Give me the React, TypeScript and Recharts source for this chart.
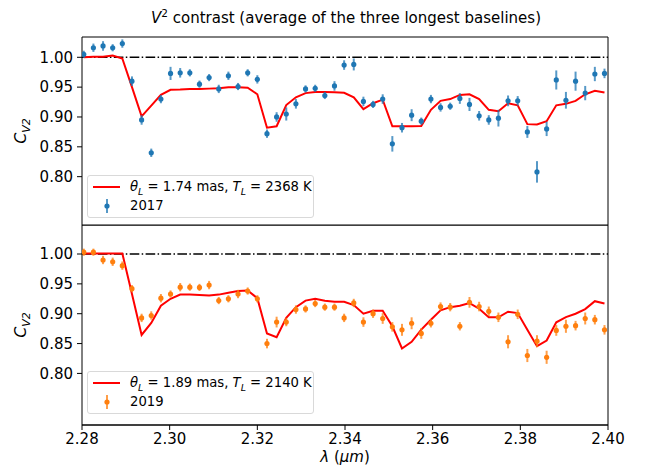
import { ComposedChart, Line, Scatter, ErrorBar, XAxis, YAxis, ReferenceLine } from 'recharts';

// wavelength grid (micron)
const wavelengths = [
  2.2804, 2.2826, 2.2848, 2.287, 2.2892, 2.2914, 2.2936, 2.2958, 2.298, 2.3002,
  2.3024, 2.3046, 2.3068, 2.309, 2.3112, 2.3134, 2.3156, 2.3178, 2.32, 2.3222,
  2.3244, 2.3266, 2.3288, 2.331, 2.3332, 2.3354, 2.3376, 2.3398, 2.342, 2.3442,
  2.3464, 2.3486, 2.3508, 2.353, 2.3552, 2.3574, 2.3596, 2.3618, 2.364, 2.3662,
  2.3684, 2.3706, 2.3728, 2.375, 2.3772, 2.3794, 2.3816, 2.3838, 2.386, 2.3882,
  2.3904, 2.3926, 2.3948, 2.397, 2.3992,
];

const v2017 = [
  1.005, 1.016, 1.019, 1.016, 1.023, 0.96, 0.895, 0.84, 0.93, 0.973,
  0.974, 0.974, 0.955, 0.966, 0.947, 0.969, 0.951, 0.974, 0.963, 0.872,
  0.9, 0.905, 0.922, 0.947, 0.948, 0.936, 0.952, 0.987, 0.988, 0.926,
  0.921, 0.93, 0.855, 0.882, 0.903, 0.893, 0.93, 0.916, 0.918, 0.931,
  0.921, 0.902, 0.895, 0.898, 0.927, 0.927, 0.875, 0.808, 0.88, 0.962,
  0.928, 0.96, 0.94, 0.972, 0.973,
];
const err2017 = [
  0.006, 0.007, 0.008, 0.006, 0.007, 0.008, 0.008, 0.007, 0.007, 0.011,
  0.008, 0.006, 0.006, 0.006, 0.007, 0.007, 0.006, 0.006, 0.007, 0.007,
  0.008, 0.011, 0.008, 0.006, 0.006, 0.006, 0.008, 0.008, 0.01, 0.008,
  0.006, 0.008, 0.013, 0.008, 0.01, 0.006, 0.007, 0.007, 0.006, 0.009,
  0.011, 0.008, 0.008, 0.014, 0.009, 0.008, 0.01, 0.018, 0.012, 0.016,
  0.014, 0.016, 0.012, 0.012, 0.008,
];
const model2017 = [
  1.0, 1.001, 1.001, 1.003, 0.998, 0.95, 0.901, 0.919, 0.937, 0.9455,
  0.946, 0.947, 0.947, 0.9475, 0.948, 0.95, 0.95, 0.949, 0.938, 0.882,
  0.8845, 0.92, 0.933, 0.94, 0.942, 0.942, 0.9415, 0.9405, 0.933, 0.913,
  0.923, 0.929, 0.8845, 0.8845, 0.8845, 0.885, 0.912, 0.927, 0.93, 0.937,
  0.938, 0.93, 0.912, 0.9095, 0.923, 0.9195, 0.888, 0.8875, 0.893, 0.9195,
  0.922, 0.927, 0.938, 0.944, 0.941,
];

const v2019 = [
  1.003, 1.003, 0.99, 0.987, 0.9805, 0.942, 0.893, 0.897, 0.926, 0.933,
  0.9445, 0.9445, 0.944, 0.948, 0.922, 0.925, 0.933, 0.938, 0.925, 0.85,
  0.886, 0.886, 0.907, 0.908, 0.917, 0.911, 0.911, 0.893, 0.918, 0.886,
  0.9, 0.892, 0.878, 0.873, 0.884, 0.867, 0.884, 0.912, 0.911, 0.879,
  0.919, 0.912, 0.904, 0.894, 0.853, 0.899, 0.83, 0.854, 0.827, 0.872,
  0.879, 0.88, 0.892, 0.89, 0.873,
];
const err2019 = [
  0.006, 0.006, 0.007, 0.007, 0.007, 0.006, 0.007, 0.007, 0.007, 0.006,
  0.007, 0.006, 0.006, 0.007, 0.006, 0.006, 0.007, 0.006, 0.006, 0.008,
  0.009, 0.007, 0.007, 0.006, 0.006, 0.006, 0.006, 0.007, 0.007, 0.008,
  0.007, 0.009, 0.008, 0.01, 0.01, 0.009, 0.007, 0.007, 0.007, 0.007,
  0.009, 0.008, 0.008, 0.008, 0.011, 0.008, 0.011, 0.01, 0.011, 0.009,
  0.011, 0.008, 0.01, 0.008, 0.008,
];
const model2019 = [
  1.001, 1.001, 1.001, 1.001, 1.001, 0.933, 0.8645, 0.8845, 0.9133, 0.925,
  0.932, 0.932, 0.9315, 0.9305, 0.932, 0.935, 0.938, 0.939, 0.926, 0.867,
  0.8606, 0.893, 0.911, 0.922, 0.925, 0.9217, 0.92, 0.92, 0.9144, 0.9,
  0.905, 0.905, 0.879, 0.8417, 0.853, 0.8733, 0.89, 0.9056, 0.911, 0.9133,
  0.9178, 0.9083, 0.894, 0.894, 0.9033, 0.901, 0.873, 0.8456, 0.855, 0.8856,
  0.8944, 0.9, 0.9078, 0.921, 0.9172,
];

const yTicks = [0.8, 0.85, 0.9, 0.95, 1.0];
const xTicks = [2.28, 2.3, 2.32, 2.34, 2.36, 2.38, 2.4];

const FONT = '"DejaVu Sans", sans-serif';
const tickStyle = { fontSize: 15, fill: '#000', fontFamily: FONT };

const rows2017 = wavelengths.map((x, i) => ({ x, y: v2017[i], err: err2017[i], model: model2017[i] }));
const rows2019 = wavelengths.map((x, i) => ({ x, y: v2019[i], err: err2019[i], model: model2019[i] }));

interface PanelProps {
  rows: { x: number; y: number; err: number; model: number }[];
  color: string;
  domain: [number, number];
  height: number;
  margin: { top: number; right: number; left: number; bottom: number };
  showX: boolean;
}

function Panel({ rows, color, domain, height, margin, showX }: PanelProps) {
  return (
    <ComposedChart width={648} height={height} data={rows} margin={margin}>
      <XAxis
        dataKey="x"
        type="number"
        domain={[2.28, 2.4]}
        ticks={xTicks}
        tickFormatter={(v) => v.toFixed(2)}
        hide={!showX}
        allowDataOverflow
        height={45}
        stroke="#000"
        tickSize={5}
        tickMargin={3}
        tick={tickStyle}
      />
      <YAxis
        type="number"
        domain={domain}
        ticks={yTicks}
        allowDataOverflow
        tickFormatter={(v) => v.toFixed(2)}
        width={82}
        stroke="#000"
        tickSize={5}
        tickMargin={4}
        tick={tickStyle}
      />
      <ReferenceLine y={domain[1]} stroke="#000" strokeWidth={1} />
      <ReferenceLine y={domain[0]} stroke="#000" strokeWidth={1} />
      <ReferenceLine x={2.4} stroke="#000" strokeWidth={1} />
      <ReferenceLine y={1} stroke="#000" strokeWidth={1.5} strokeDasharray="9.6 2.4 1.5 2.4" />
      <Line
        type="linear"
        dataKey="model"
        stroke="#ff0000"
        strokeWidth={2}
        dot={false}
        isAnimationActive={false}
      />
      <Scatter
        data={rows}
        dataKey="y"
        fill={color}
        isAnimationActive={false}
        shape={(p: any) => <circle cx={p.cx} cy={p.cy} r={2.6} fill={color} />}
      >
        <ErrorBar dataKey="err" direction="y" width={0} stroke={color} strokeWidth={2} strokeOpacity={0.75} isAnimationActive={false} />
      </Scatter>
    </ComposedChart>
  );
}

function LegendBox({ top, theta, temp, year, color }: { top: number; theta: string; temp: string; year: string; color: string }) {
  return (
    <div
      style={{
        position: 'absolute',
        left: 87,
        top,
        width: 227,
        height: 43,
        boxSizing: 'border-box',
        border: '1px solid #d9d9d9',
        borderRadius: 3,
        background: 'rgba(255,255,255,0.8)',
        fontFamily: FONT,
        fontSize: 13.2,
        color: '#000',
      }}
    >
      <div style={{ position: 'absolute', left: 5, top: 10, width: 27, height: 2, background: '#ff0000' }} />
      <div style={{ position: 'absolute', left: 42, top: 1, whiteSpace: 'nowrap', lineHeight: '19px' }}>
        <i>θ</i><sub style={{ fontSize: 9.5 }}><i>L</i></sub> = {theta} mas, <i>T</i><sub style={{ fontSize: 9.5 }}><i>L</i></sub> = {temp} K
      </div>
      <svg style={{ position: 'absolute', left: 14, top: 22 }} width={10} height={16}>
        <line x1={5} y1={1} x2={5} y2={15} stroke={color} strokeWidth={2} strokeOpacity={0.75} />
        <circle cx={5} cy={8} r={2.6} fill={color} />
      </svg>
      <div style={{ position: 'absolute', left: 42, top: 21, lineHeight: '18px' }}>{year}</div>
    </div>
  );
}

function YLabel({ centerY }: { centerY: number }) {
  return (
    <div
      style={{
        position: 'absolute',
        left: 22,
        top: centerY,
        transform: 'translate(-50%, -50%) rotate(-90deg)',
        fontFamily: FONT,
        fontSize: 16,
        whiteSpace: 'nowrap',
      }}
    >
      <i>C</i><sub style={{ fontSize: 11 }}><i>V2</i></sub>
    </div>
  );
}

export default function App() {
  return (
    <div style={{ position: 'absolute', left: 0, top: 0, width: 648, height: 470, background: '#fff' }}>
      <div
        style={{
          position: 'absolute',
          left: 346,
          top: 17,
          transform: 'translate(-50%, -50%)',
          fontFamily: FONT,
          fontSize: 15,
          whiteSpace: 'nowrap',
        }}
      >
        <i>V</i><sup style={{ fontSize: 10.5 }}>2</sup> contrast (average of the three longest baselines)
      </div>
      <div style={{ position: 'absolute', left: 0, top: 0 }}>
        <Panel
          rows={rows2017}
          color="#1f77b4"
          domain={[0.719, 1.034]}
          height={230}
          margin={{ top: 37, right: 40, left: 0, bottom: 5 }}
          showX={false}
        />
      </div>
      <div style={{ position: 'absolute', left: 0, top: 225 }}>
        <Panel
          rows={rows2019}
          color="#ff7f0e"
          domain={[0.7136, 1.0486]}
          height={245}
          margin={{ top: 0, right: 40, left: 0, bottom: 0 }}
          showX={true}
        />
      </div>
      <LegendBox top={175} theta="1.74" temp="2368" year="2017" color="#1f77b4" />
      <LegendBox top={371} theta="1.89" temp="2140" year="2019" color="#ff7f0e" />
      <YLabel centerY={131} />
      <YLabel centerY={325} />
      <div
        style={{
          position: 'absolute',
          left: 345,
          top: 457,
          transform: 'translate(-50%, -50%)',
          fontFamily: FONT,
          fontSize: 15,
          whiteSpace: 'nowrap',
        }}
      >
        <i>λ</i> (<i>μm</i>)
      </div>
    </div>
  );
}
